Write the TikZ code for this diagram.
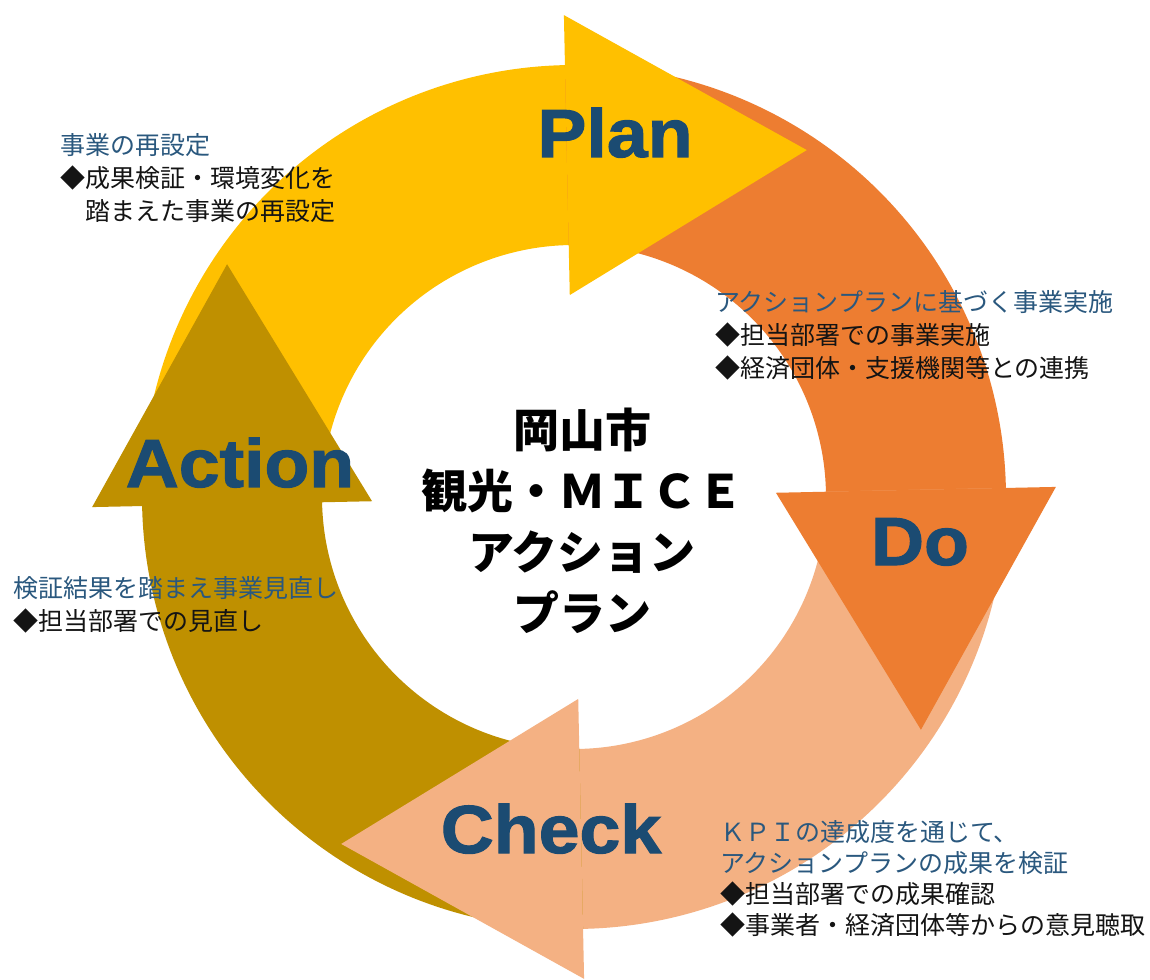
\documentclass[tikz,border=0pt]{standalone}
\usepackage{fontspec}
\newfontfamily\jpfont{Noto Sans CJK JP}
\newfontfamily\stagefont[FakeStretch=1.08, FakeBold=1.6]{Liberation Sans}
\definecolor{planc}{HTML}{FFC000}
\definecolor{doc}{HTML}{ED7D31}
\definecolor{checkc}{HTML}{F4B183}
\definecolor{actc}{HTML}{BF9000}
\definecolor{stagec}{HTML}{1B4B72}
\definecolor{headc}{HTML}{2A587E}
\definecolor{notec}{HTML}{141414}
\tikzset{
every node/.style={inner sep=0pt}, % text sits exactly where it is placed
stage/.style={font=\stagefont\bfseries\fontsize{68}{68}\selectfont, text=stagec, anchor=base}, % Plan, Do, ...
note/.style={font=\jpfont\fontsize{25}{33}\selectfont, align=left, anchor=north west, text=notec}, % side texts
title/.style={font=\jpfont\bfseries\fontsize{46}{61}\selectfont, align=center}, % text in the middle
}

\begin{document}
\begin{tikzpicture}[x=1pt, y=1pt]
    \useasboundingbox (-574,-482) rectangle (576,497);
    \fill[white] (-574,-482) rectangle (576,497);
    \begin{scope}[rotate=1.2]
    % shafts of the ring
    \fill[planc] (180:432) arc[start angle=180, end angle=89, radius=432] -- (89:252) arc[start angle=89, end angle=180, radius=252] -- cycle;
    \fill[doc] (90:432) arc[start angle=90, end angle=-1, radius=432] -- (-1:252) arc[start angle=-1, end angle=90, radius=252] -- cycle;
    \fill[checkc] (0:432) arc[start angle=0, end angle=-91, radius=432] -- (-91:252) arc[start angle=-91, end angle=0, radius=252] -- cycle;
    \fill[actc] (-90:432) arc[start angle=-90, end angle=-181, radius=432] -- (-181:252) arc[start angle=-181, end angle=-90, radius=252] -- cycle;
    % heads
    \fill[planc] (0,482) -- (240,342) -- (0,202) -- cycle;
    \fill[doc] (482,0) -- (342,-240) -- (202,0) -- cycle;
    \fill[checkc] (0,-482) -- (-240,-342) -- (0,-202) -- cycle;
    \fill[actc] (-482,0) -- (-342,240) -- (-202,0) -- cycle;
    \end{scope}

    \node[stage] (plan) at (41,340) {Plan};
    \node[stage] (do) at (346,-68) {Do};
    \node[stage] (check) at (-23,-356) {Check};
    \node[stage] (action) at (-334,10) {Action};

    \node[title] (mid) at (8,-24) {岡山市\\観光・ＭＩＣＥ\\アクション\\プラン};

    \node[note] (reset) at (-514,364) {{\color{headc}事業の再設定}\\◆成果検証・環境変化を\\　踏まえた事業の再設定};
    \node[note] (run) at (141,207) {{\color{headc}アクションプランに基づく事業実施}\\◆担当部署での事業実施\\◆経済団体・支援機関等との連携};
    \node[note] (review) at (-561,-79) {{\color{headc}検証結果を踏まえ事業見直し}\\◆担当部署での見直し};
    \node[note, font=\jpfont\fontsize{25}{31}\selectfont] (verify) at (146,-323) {{\color{headc}ＫＰＩの達成度を通じて、}\\{\color{headc}アクションプランの成果を検証}\\◆担当部署での成果確認\\◆事業者・経済団体等からの意見聴取};
\end{tikzpicture}
\end{document}
